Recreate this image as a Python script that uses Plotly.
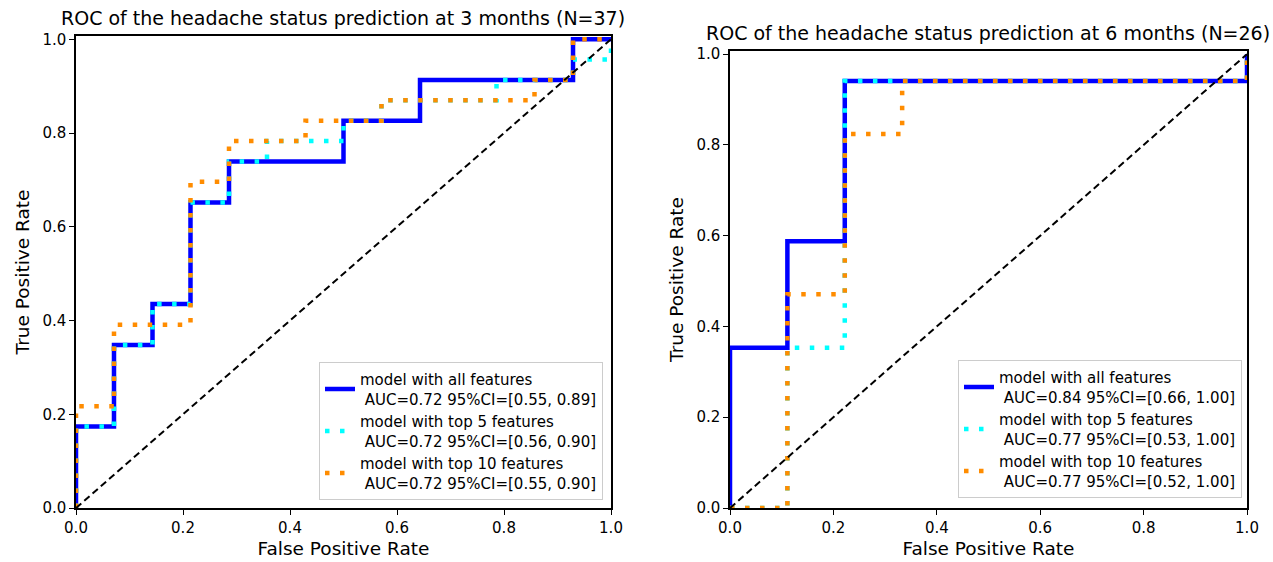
import plotly.graph_objects as go

# ---------------- data ----------------
titles = ["ROC of the headache status prediction at 3 months (N=37)",
          "ROC of the headache status prediction at 6 months (N=26)"]
series_names = ["model with all features", "model with top 5 features", "model with top 10 features"]

# 3 months
m3_all_fpr = [0.0, 0.0, 0.071, 0.071, 0.143, 0.143, 0.214, 0.214, 0.286, 0.286, 0.5, 0.5, 0.643, 0.643, 0.929, 0.929, 1.0]
m3_all_tpr = [0.0, 0.174, 0.174, 0.348, 0.348, 0.435, 0.435, 0.652, 0.652, 0.739, 0.739, 0.826, 0.826, 0.913, 0.913, 1.0, 1.0]
m3_top5_fpr = [0.0, 0.0, 0.071, 0.071, 0.143, 0.143, 0.214, 0.214, 0.286, 0.286, 0.357, 0.357, 0.5, 0.5, 0.571, 0.571, 0.786, 0.786, 0.929, 0.929, 1.0, 1.0]
m3_top5_tpr = [0.0, 0.174, 0.174, 0.348, 0.348, 0.435, 0.435, 0.652, 0.652, 0.739, 0.739, 0.783, 0.783, 0.826, 0.826, 0.870, 0.870, 0.913, 0.913, 0.957, 0.957, 1.0]
m3_top10_fpr = [0.0, 0.0, 0.071, 0.071, 0.214, 0.214, 0.286, 0.286, 0.429, 0.429, 0.571, 0.571, 0.857, 0.857, 0.929, 0.929, 1.0]
m3_top10_tpr = [0.0, 0.217, 0.217, 0.391, 0.391, 0.696, 0.696, 0.783, 0.783, 0.826, 0.826, 0.870, 0.870, 0.913, 0.913, 1.0, 1.0]
m3_auc = ["AUC=0.72 95%CI=[0.55, 0.89]", "AUC=0.72 95%CI=[0.56, 0.90]", "AUC=0.72 95%CI=[0.55, 0.90]"]

# 6 months
m6_all_fpr = [0.0, 0.0, 0.111, 0.111, 0.222, 0.222, 1.0, 1.0]
m6_all_tpr = [0.0, 0.353, 0.353, 0.588, 0.588, 0.941, 0.941, 1.0]
m6_top5_fpr = [0.0, 0.111, 0.111, 0.222, 0.222, 1.0, 1.0]
m6_top5_tpr = [0.0, 0.0, 0.353, 0.353, 0.941, 0.941, 1.0]
m6_top10_fpr = [0.0, 0.111, 0.111, 0.222, 0.222, 0.333, 0.333, 1.0, 1.0]
m6_top10_tpr = [0.0, 0.0, 0.471, 0.471, 0.824, 0.824, 0.941, 0.941, 1.0]
m6_auc = ["AUC=0.84 95%CI=[0.66, 1.00]", "AUC=0.77 95%CI=[0.53, 1.00]", "AUC=0.77 95%CI=[0.52, 1.00]"]

chance = [0.0, 1.0]
tick_vals = [0.0, 0.2, 0.4, 0.6, 0.8, 1.0]
tick_text = ["0.0", "0.2", "0.4", "0.6", "0.8", "1.0"]

# ---------------- styling ----------------
W, H = 1273, 562
FONT = "DejaVu Sans"
colors = ["#0000ff", "#00ffff", "#ff8c00"]
dashes = ["solid", "4.5px,10.5px", "4.5px,10.5px"]

fig = go.Figure()

panels = [
    dict(xs=[m3_all_fpr, m3_top5_fpr, m3_top10_fpr], ys=[m3_all_tpr, m3_top5_tpr, m3_top10_tpr],
         auc=m3_auc, xa="x", ya="y", legend="legend"),
    dict(xs=[m6_all_fpr, m6_top5_fpr, m6_top10_fpr], ys=[m6_all_tpr, m6_top5_tpr, m6_top10_tpr],
         auc=m6_auc, xa="x2", ya="y2", legend="legend2"),
]

for p in panels:
    for i in range(3):
        fig.add_trace(go.Scatter(
            x=p["xs"][i], y=p["ys"][i], mode="lines",
            name=series_names[i] + "<br>\u00a0" + p["auc"][i],
            line=dict(color=colors[i], width=4.5, dash=dashes[i]),
            xaxis=p["xa"], yaxis=p["ya"], legend=p["legend"],
        ))
    fig.add_trace(go.Scatter(
        x=chance, y=chance, mode="lines", showlegend=False,
        line=dict(color="black", width=2, dash="7px,4px"),
        xaxis=p["xa"], yaxis=p["ya"],
    ))

def px_x(v):
    return v / W

def px_y(v):
    return 1 - v / H

axis_common = dict(
    tickmode="array", tickvals=tick_vals, ticktext=tick_text,
    ticks="outside", ticklen=5, tickwidth=1, tickcolor="black",
    showline=True, linecolor="black", linewidth=1.5, mirror=True,
    showgrid=False, zeroline=False, automargin=False,
    tickfont=dict(family=FONT, size=15, color="black"),
)
xtitle = dict(text="False Positive Rate", font=dict(family=FONT, size=18.5), standoff=6)
ytitle = dict(text="True Positive Rate", font=dict(family=FONT, size=18.5), standoff=8)
legend_common = dict(xanchor="right", yanchor="bottom",
                     bgcolor="rgba(255,255,255,0.8)", bordercolor="#cccccc", borderwidth=1,
                     font=dict(family=FONT, size=15, color="black"))

fig.update_layout(
    width=W, height=H,
    margin=dict(l=0, r=0, t=0, b=0, autoexpand=False),
    paper_bgcolor="white", plot_bgcolor="white",
    font=dict(family=FONT, color="black"),
    xaxis=dict(axis_common, domain=[px_x(76), px_x(611)], range=[0, 1.0], anchor="y", title=xtitle),
    yaxis=dict(axis_common, domain=[px_y(508), px_y(36)], range=[0, 1.007], anchor="x", title=ytitle),
    xaxis2=dict(axis_common, domain=[px_x(730), px_x(1247)], range=[0, 1.0], anchor="y2", title=xtitle),
    yaxis2=dict(axis_common, domain=[px_y(508), px_y(51)], range=[0, 1.007], anchor="x2", title=ytitle),
    legend=dict(legend_common, x=px_x(603), y=px_y(500)),
    legend2=dict(legend_common, x=px_x(1242), y=px_y(498)),
    annotations=[
        dict(text=titles[0], x=px_x(343), y=px_y(18), xref="paper", yref="paper",
             xanchor="center", yanchor="middle",
             showarrow=False, font=dict(family=FONT, size=19, color="black")),
        dict(text=titles[1], x=px_x(988), y=px_y(33), xref="paper", yref="paper",
             xanchor="center", yanchor="middle",
             showarrow=False, font=dict(family=FONT, size=19, color="black")),
    ],
)

fig.write_html("out.html", config={"displayModeBar": False},
               post_script="document.body.style.margin='0px';document.body.style.overflow='hidden';")
